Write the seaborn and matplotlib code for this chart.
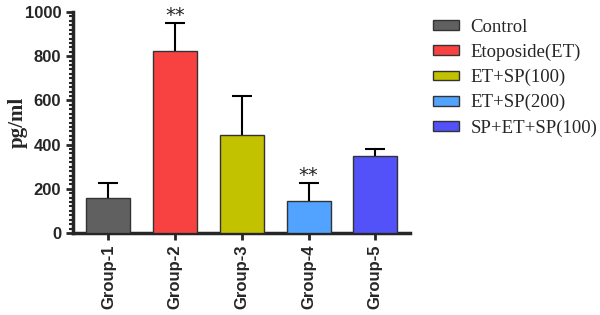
import pandas as pd
import numpy as np
import seaborn as sns
import matplotlib.pyplot as plt
from matplotlib.ticker import MultipleLocator
from matplotlib.patches import Patch

# Valores
grupos = ['Group-1', 'Group-2', 'Group-3', 'Group-4', 'Group-5']
tratamentos = ['Control', 'Etoposide(ET)', 'ET+SP(100)', 'ET+SP(200)', 'SP+ET+SP(100)']
medias = [158, 825, 443, 146, 347]
erros = [68, 126, 175, 79, 31]
signif = ['', '**', '', '**', '']
cores = ['#606060', '#F84242', '#C2C200', '#52A2FF', '#5252F8']

df = pd.DataFrame({'grupo': grupos, 'pg': medias})

sns.set_style('ticks')
fig = plt.figure(figsize=(6, 3.15), dpi=100)
ax = fig.add_axes([0.1217, 0.2603, 0.5617, 0.7016])

sns.barplot(data=df, x='grupo', y='pg', hue='grupo', palette=cores, width=0.66,
            saturation=1, edgecolor='#333333', linewidth=1, legend=False, ax=ax)
for barra in ax.patches:
    barra.set_zorder(3)

# Barras de erro só para cima
_, caps, _ = ax.errorbar(np.arange(len(grupos)), medias, yerr=[np.zeros(len(erros)), erros],
                         fmt='none', ecolor='black', elinewidth=1.5, capsize=7,
                         capthick=1.5, zorder=2)
caps[0].set_visible(False)  # sem traço na base

# Asteriscos de significância
for i, (m, e, s) in enumerate(zip(medias, erros, signif)):
    if s:
        ax.text(i, m + e + 35, s, ha='center', va='center', fontsize=14,
                family='DejaVu Sans', clip_on=False)

ax.set_xlim(-0.53, 4.52)
ax.set_ylim(0, 1000)
ax.yaxis.set_major_locator(MultipleLocator(200))
ax.yaxis.set_minor_locator(MultipleLocator(20))
ax.set_xlabel('')
ax.set_ylabel('pg/ml', family='Liberation Serif', fontweight='bold', fontsize=15, labelpad=-2)

sns.despine(ax=ax)
for lado in ['left', 'bottom']:
    ax.spines[lado].set_linewidth(2.5)
ax.tick_params(axis='both', which='major', width=2, length=5, labelsize=12)
ax.tick_params(axis='y', which='minor', width=1.5, length=3)
ax.tick_params(axis='x', which='major', pad=3)
for lab in ax.get_yticklabels():
    lab.set_family('Liberation Sans')
    lab.set_fontweight('bold')
ax.set_xticks(range(len(grupos)))
ax.set_xticklabels(grupos, rotation=90, family='Liberation Sans', fontweight='bold', fontsize=12)

# Legenda
handles = [Patch(facecolor=c, edgecolor='#333333', linewidth=1) for c in cores]
fig.legend(handles, tratamentos, loc='upper left', bbox_to_anchor=(0.722, 0.94),
           frameon=False, borderaxespad=0, borderpad=0, handlelength=1.35,
           handleheight=0.42, handletextpad=0.65, labelspacing=0.42,
           prop={'family': 'Liberation Serif', 'size': 13.5})

fig.savefig('out.png', dpi=100)
